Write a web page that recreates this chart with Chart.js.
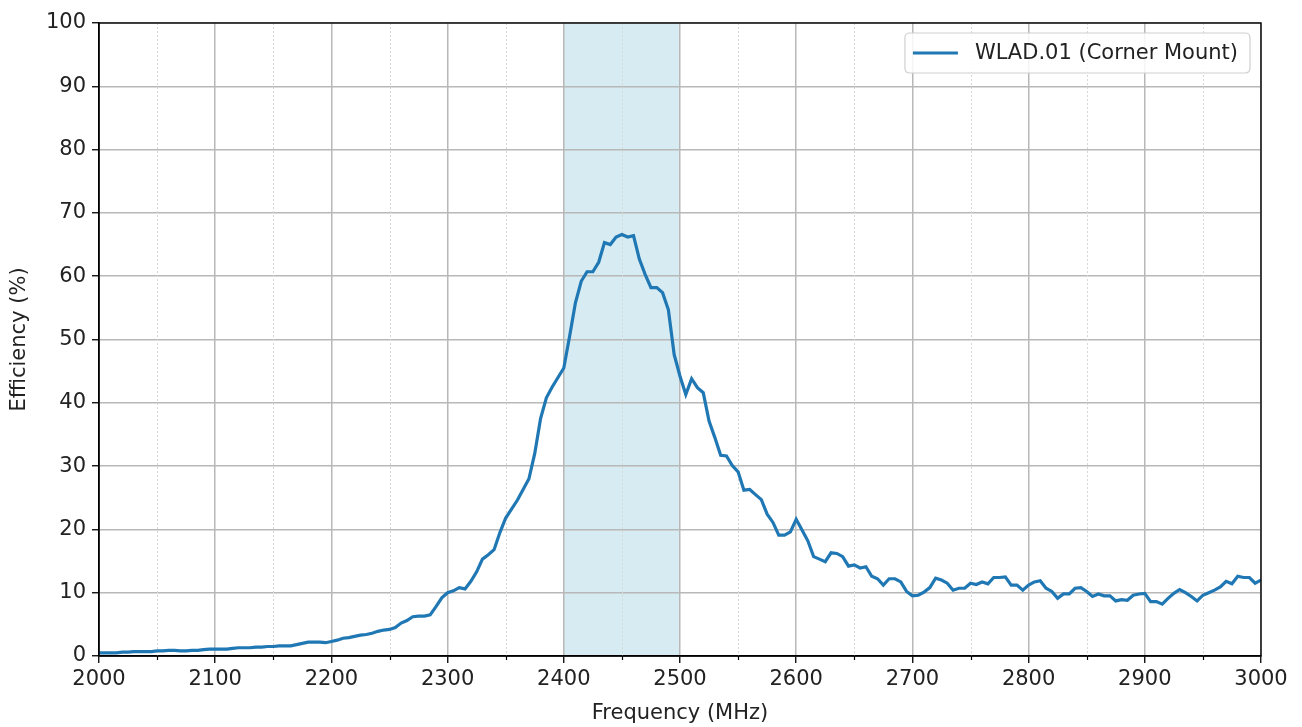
<!DOCTYPE html>
<html>
<head>
<meta charset="utf-8">
<title>WLAD.01 efficiency</title>
<script src="https://cdn.jsdelivr.net/npm/chart.js@4.4.1/dist/chart.umd.min.js"></script>
<style>
  html, body { margin: 0; padding: 0; background: #fff; }
  canvas { display: block; }
</style>
</head>
<body>
<canvas id="effChart" width="1302" height="727"></canvas>
<script>
// Frequency axis, one sample every 5 MHz
var freqStart = 2000;
var freqStep = 5;

// Efficiency (%)
var efficiency = [
  // 2000 - 2095
  0.5, 0.5, 0.5, 0.5, 0.6, 0.6, 0.7, 0.7, 0.7, 0.7, 0.8, 0.8, 0.9, 0.9, 0.8, 0.8, 0.9, 0.9, 1.0, 1.1,
  // 2100 - 2195
  1.1, 1.1, 1.1, 1.2, 1.3, 1.3, 1.3, 1.4, 1.4, 1.5, 1.5, 1.6, 1.6, 1.6, 1.8, 2.0, 2.2, 2.2, 2.2, 2.1,
  // 2200 - 2295
  2.3, 2.5, 2.8, 2.9, 3.1, 3.3, 3.4, 3.6, 3.9, 4.1, 4.2, 4.5, 5.2, 5.6, 6.2, 6.3, 6.3, 6.5, 7.8, 9.2,
  // 2300 - 2395
  10.0, 10.3, 10.8, 10.6, 11.8, 13.3, 15.3, 16.0, 16.8, 19.5, 21.8, 23.2, 24.6, 26.3, 28.0, 32.0, 37.5, 40.8, 42.5, 44.0,
  // 2400 - 2495
  45.5, 50.5, 55.8, 59.2, 60.7, 60.7, 62.2, 65.3, 65.0, 66.2, 66.6, 66.2, 66.4, 62.7, 60.3, 58.2, 58.2, 57.4, 54.7, 47.6,
  // 2500 - 2595
  44.2, 41.3, 43.8, 42.4, 41.6, 37.1, 34.5, 31.7, 31.6, 30.1, 29.1, 26.2, 26.3, 25.5, 24.7, 22.4, 21.1, 19.1, 19.1, 19.6,
  // 2600 - 2695
  21.6, 19.9, 18.2, 15.7, 15.3, 14.9, 16.3, 16.2, 15.7, 14.2, 14.4, 13.9, 14.1, 12.6, 12.2, 11.2, 12.2, 12.2, 11.7, 10.2,
  // 2700 - 2795
  9.5, 9.6, 10.1, 10.8, 12.3, 12.0, 11.5, 10.4, 10.7, 10.7, 11.5, 11.3, 11.7, 11.4, 12.4, 12.4, 12.5, 11.2, 11.2, 10.4,
  // 2800 - 2895
  11.2, 11.7, 11.9, 10.7, 10.2, 9.1, 9.8, 9.8, 10.7, 10.8, 10.2, 9.4, 9.8, 9.5, 9.5, 8.7, 8.9, 8.8, 9.6, 9.8,
  // 2900 - 3000
  9.9, 8.6, 8.6, 8.2, 9.1, 9.9, 10.5, 10.0, 9.4, 8.7, 9.6, 10.0, 10.4, 10.9, 11.8, 11.4, 12.6, 12.4, 12.4, 11.5, 12.0
];

var seriesLabel = 'WLAD.01 (Corner Mount)';
var bandRange = [2400, 2500];     // shaded band (MHz)
var xRange = [2000, 3000];
var yRange = [0, 100];
var minorXTicks = [2050, 2150, 2250, 2350, 2450, 2550, 2650, 2750, 2850, 2950];

var points = [];
for (var i = 0; i < efficiency.length; i++) {
  points.push({ x: freqStart + i * freqStep, y: efficiency[i] });
}

var fontFamily = '"DejaVu Sans", sans-serif';
var textColor = '#222';
var gridColor = '#b8b8b8';

// Light blue band behind the grid
var bandPlugin = {
  id: 'band',
  beforeDraw: function(chart) {
    var ctx = chart.ctx, x = chart.scales.x, a = chart.chartArea;
    var x0 = x.getPixelForValue(bandRange[0]);
    var x1 = x.getPixelForValue(bandRange[1]);
    ctx.save();
    ctx.fillStyle = 'rgba(173,216,230,0.5)';
    ctx.fillRect(x0, a.top, x1 - x0, a.bottom - a.top);
    ctx.restore();
  }
};

// Minor dotted grid + minor ticks, frame and legend
var decorPlugin = {
  id: 'decor',
  beforeDatasetsDraw: function(chart) {
    var ctx = chart.ctx, x = chart.scales.x, a = chart.chartArea;
    ctx.save();
    ctx.strokeStyle = '#d6d6d6';
    ctx.lineWidth = 1;
    ctx.setLineDash([2, 2]);
    minorXTicks.forEach(function(v) {
      var px = Math.round(x.getPixelForValue(v)) + 0.5;
      ctx.beginPath();
      ctx.moveTo(px, a.top);
      ctx.lineTo(px, a.bottom);
      ctx.stroke();
    });
    ctx.restore();
  },
  afterDraw: function(chart) {
    var ctx = chart.ctx, x = chart.scales.x, a = chart.chartArea;
    ctx.save();
    // minor tick marks
    ctx.strokeStyle = '#000';
    ctx.lineWidth = 1.2;
    minorXTicks.forEach(function(v) {
      var px = Math.round(x.getPixelForValue(v)) + 0.5;
      ctx.beginPath();
      ctx.moveTo(px, a.bottom);
      ctx.lineTo(px, a.bottom + 4);
      ctx.stroke();
    });
    // frame
    ctx.lineWidth = 1.4;
    ctx.strokeRect(a.left, a.top, a.right - a.left, a.bottom - a.top);

    // legend
    ctx.font = '21px ' + fontFamily;
    var tw = ctx.measureText(seriesLabel).width;
    var bw = 8 + 45 + 17 + tw + 12;
    var bh = 40;
    var bx = a.right - 11 - bw;
    var by = a.top + 10;
    var r = 5;
    ctx.beginPath();
    ctx.moveTo(bx + r, by);
    ctx.lineTo(bx + bw - r, by);
    ctx.quadraticCurveTo(bx + bw, by, bx + bw, by + r);
    ctx.lineTo(bx + bw, by + bh - r);
    ctx.quadraticCurveTo(bx + bw, by + bh, bx + bw - r, by + bh);
    ctx.lineTo(bx + r, by + bh);
    ctx.quadraticCurveTo(bx, by + bh, bx, by + bh - r);
    ctx.lineTo(bx, by + r);
    ctx.quadraticCurveTo(bx, by, bx + r, by);
    ctx.closePath();
    ctx.fillStyle = 'rgba(255,255,255,0.85)';
    ctx.fill();
    ctx.strokeStyle = '#d0d0d0';
    ctx.lineWidth = 1.2;
    ctx.stroke();
    ctx.strokeStyle = '#1f77b4';
    ctx.lineWidth = 3;
    ctx.beginPath();
    ctx.moveTo(bx + 8, by + bh / 2);
    ctx.lineTo(bx + 53, by + bh / 2);
    ctx.stroke();
    ctx.fillStyle = textColor;
    ctx.textBaseline = 'middle';
    ctx.textAlign = 'left';
    ctx.fillText(seriesLabel, bx + 70, by + bh / 2 + 1);
    ctx.restore();
  }
};

var effChart = new Chart(document.getElementById('effChart'), {
  type: 'line',
  data: {
    datasets: [{
      label: seriesLabel,
      data: points,
      borderColor: '#1f77b4',
      borderWidth: 3.2,
      pointRadius: 0,
      tension: 0,
      fill: false
    }]
  },
  options: {
    responsive: false,
    animation: false,
    devicePixelRatio: 1,
    layout: { padding: { left: 0, top: 23, right: 41, bottom: 0 } },
    plugins: {
      legend: { display: false },
      tooltip: { enabled: false }
    },
    scales: {
      x: {
        type: 'linear',
        min: xRange[0],
        max: xRange[1],
        ticks: {
          stepSize: 100,
          color: textColor,
          padding: 4,
          font: { family: fontFamily, size: 21 },
          maxRotation: 0,
          callback: function(v) { return String(v); }
        },
        grid: { color: gridColor, lineWidth: 1.5, tickColor: '#000', tickLength: 7, tickWidth: 1.3 },
        border: { color: '#000', width: 1.4 },
        title: {
          display: true,
          text: 'Frequency (MHz)',
          color: textColor,
          font: { family: fontFamily, size: 21 },
          padding: { top: 2, bottom: 1 }
        },
        afterFit: function(scale) { scale.height = 71; }
      },
      y: {
        min: yRange[0],
        max: yRange[1],
        ticks: {
          stepSize: 10,
          color: textColor,
          padding: 6,
          font: { family: fontFamily, size: 21 }
        },
        grid: { color: gridColor, lineWidth: 1.5, tickColor: '#000', tickLength: 7, tickWidth: 1.3 },
        border: { color: '#000', width: 1.4 },
        title: {
          display: true,
          text: 'Efficiency (%)',
          color: textColor,
          font: { family: fontFamily, size: 21 },
          padding: { top: 7, bottom: 4 }
        },
        afterFit: function(scale) { scale.width = 99; }
      }
    }
  },
  plugins: [bandPlugin, decorPlugin]
});
</script>
</body>
</html>
